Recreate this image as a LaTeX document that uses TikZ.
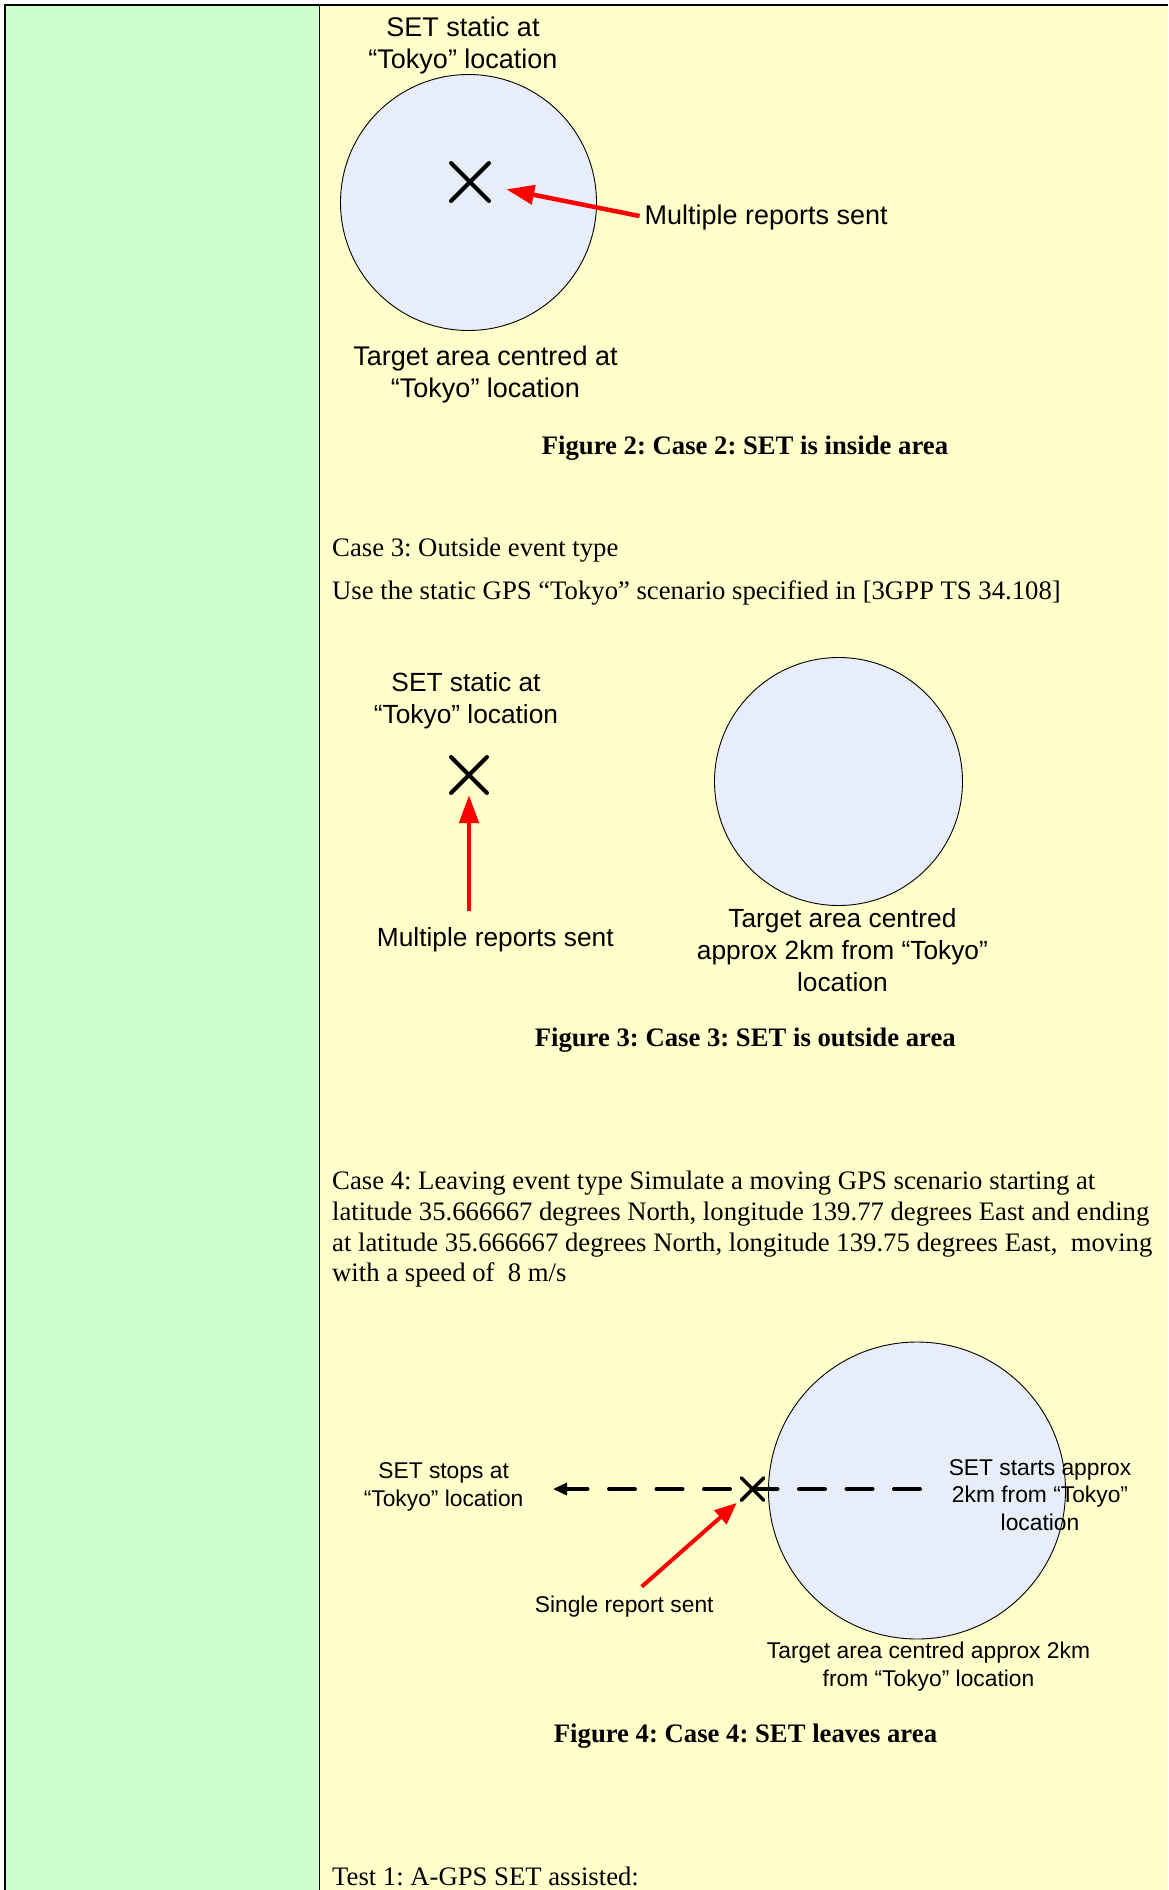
\documentclass[tikz,border=0pt]{standalone}
\usepackage{fontspec}
\setmainfont{Liberation Serif}
\newfontfamily\arialf{Liberation Sans}
\usetikzlibrary{shapes.misc,arrows.meta}
\definecolor{cellgreen}{RGB}{204,255,204}
\definecolor{cellyellow}{RGB}{255,255,204}
\definecolor{areablue}{RGB}{231,237,249}
\frenchspacing
\begin{document}
\begin{tikzpicture}[x=1pt,y=-1pt,
  lab/.style={font=\arialf\fontsize{27}{32.5}\selectfont, inner sep=0pt, align=center},
  labm/.style={font=\arialf\fontsize{26.3}{32}\selectfont, inner sep=0pt, align=center},
  labs/.style={font=\arialf\fontsize{22.8}{27.5}\selectfont, inner sep=0pt, align=center},
  body/.style={font=\fontsize{26.7}{30.7}\selectfont, inner sep=0pt, align=left},
  capt/.style={font=\bfseries\fontsize{26.7}{31}\selectfont, inner sep=0pt},
  area/.style={circle, draw=black, line width=0.9pt, fill=areablue, inner sep=0pt},
  setx/.style={cross out, draw=black, line width=4pt, line cap=round, inner sep=0pt},
  redarr/.style={draw=red, line width=4.5pt, -{Triangle[length=28pt,width=19pt]}},
  redarrs/.style={draw=red, line width=4pt, -{Triangle[length=22pt,width=18pt]}},
  dasharr/.style={draw=black, line width=4pt, line cap=round, dash pattern=on 26pt off 21.5pt, -{Triangle[length=14pt,width=12pt]}}
]
\useasboundingbox (0,0) rectangle (1168,1890);
% table cells
\fill[cellgreen] (5,5) rectangle (319.5,1890);
\fill[cellyellow] (319.5,5) rectangle (1168,1890);
\draw[line width=2pt] (4,5) -- (1168,5);
\draw[line width=2pt] (5,4) -- (5,1890);
\draw[line width=1.6pt] (319.5,5) -- (319.5,1890);

% ---------- Figure 2 ----------
\node[area, minimum size=256pt] (c2) at (468.5,202.5) {};
\node[setx, minimum size=34pt] (x2) at (470,182) {};
\node[lab, anchor=north] (t2) at (463,16.5) {SET static at\\“Tokyo” location};
\node[lab, anchor=base west] (m2) at (644.4,224) {Multiple reports sent};
\node[lab, anchor=north] (a2) at (485.5,345.5) {Target area centred at\\“Tokyo” location};
\draw[redarr, shorten <=5pt, shorten >=37pt] (m2.west) -- (x2.center);
\node[capt, anchor=base] (f2) at (745,454) {Figure 2: Case 2: SET is inside area};

% ---------- Case 3 text ----------
\node[body, anchor=base west] (p3a) at (332,556) {Case 3: Outside event type};
\node[body, anchor=base west] (p3b) at (332,599) {Use the static GPS “Tokyo” scenario specified in [3GPP TS 34.108]};

% ---------- Figure 3 ----------
\node[labm, anchor=north] (t3) at (466,672) {SET static at\\“Tokyo” location};
\node[setx, minimum size=32pt] (x3) at (469,775) {};
\node[labm, anchor=base] (m3) at (495.3,946.7) {Multiple reports sent};
\coordinate (s3) at (469,910.7);
\draw[redarr, shorten >=20pt] (s3) -- (x3.center);
\node[area, minimum size=248pt] (c3) at (838.5,781.5) {};
\node[labm, anchor=north] (a3) at (842.4,908) {Target area centred\\approx 2km from “Tokyo”\\location};
\node[capt, anchor=base] (f3) at (745.3,1046) {Figure 3: Case 3: SET is outside area};

% ---------- Case 4 text ----------
\node[body, anchor=north west] (p4) at (332,1171) {Case 4: Leaving event type Simulate a moving GPS scenario starting at\\latitude 35.666667 degrees North, longitude 139.77 degrees East and ending\\at latitude 35.666667 degrees North, longitude 139.75 degrees East,\ \ moving\\with a speed of\ \ 8 m/s};

% ---------- Figure 4 ----------
\node[area, minimum size=297pt] (c4) at (917,1490.5) {};
\coordinate (d4s) at (920,1489);
\coordinate (d4e) at (553,1489);
\draw[dasharr] (d4s) -- (d4e);
\node[setx, minimum size=19pt, line width=3.5pt] (x4) at (752.5,1489) {};
\node[labs, anchor=north] (t4) at (443.6,1462.4) {SET stops at\\“Tokyo” location};
\node[labs, anchor=north] (st4) at (1040,1459) {SET starts approx\\2km from “Tokyo”\\location};
\node[labs, anchor=base] (m4) at (624.2,1612) {Single report sent};
\coordinate (s4) at (641.7,1586.7);
\draw[redarrs, shorten >=21pt] (s4) -- (x4.center);
\node[labs, anchor=north] (a4) at (928.5,1642) {Target area centred approx 2km\\from “Tokyo” location};
\node[capt, anchor=base] (f4) at (745.5,1742) {Figure 4: Case 4: SET leaves area};

% ---------- Test 1 ----------
\node[body, anchor=base west] (p5) at (332,1885) {Test 1: A-GPS SET assisted:};
\end{tikzpicture}
\end{document}
